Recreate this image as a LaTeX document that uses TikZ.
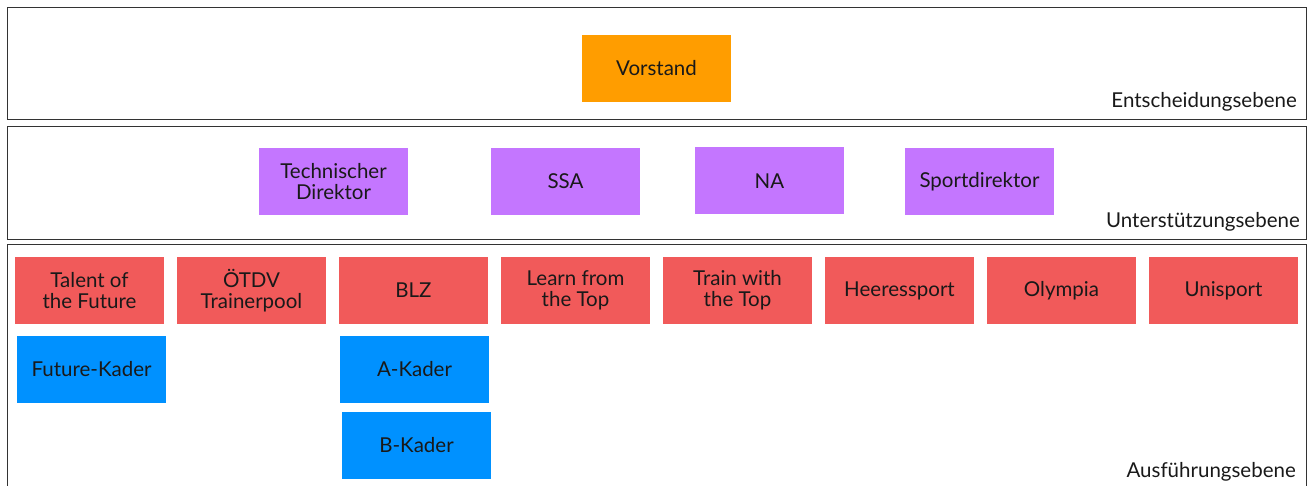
\documentclass[tikz,border=0pt]{standalone}
\usepackage{fontspec}
\setmainfont{Lato}
\definecolor{orangebox}{HTML}{FF9D00}
\definecolor{purplebox}{HTML}{C476FF}
\definecolor{redbox}{HTML}{F15A5A}
\definecolor{bluebox}{HTML}{0091FF}
\definecolor{frame}{HTML}{333333}
\tikzset{
  panel/.style={draw=frame, line width=1pt, fill=none},
  unitbox/.style={minimum width=149pt, minimum height=67pt, inner sep=0pt, align=center,
    font=\fontsize{20.5}{21}\selectfont, text=black!90},
  obox/.style={unitbox, fill=orangebox},
  pbox/.style={unitbox, fill=purplebox},
  rbox/.style={unitbox, fill=redbox},
  bbox/.style={unitbox, fill=bluebox},
  levellabel/.style={anchor=east, inner sep=0pt, font=\fontsize{20.5}{21}\selectfont, text=black!90}
}
\begin{document}
\begin{tikzpicture}[x=1pt,y=-1pt]
\useasboundingbox (0,0) rectangle (1311,486);
\begin{scope}
\clip (0,0) rectangle (1311,486);
\draw[panel] (7.5,7.5) rectangle (1306.5,119.5);
\draw[panel] (7.5,126.5) rectangle (1306.5,239.5);
\draw[panel] (7.5,244.5) rectangle (1306.5,500);
\end{scope}
\node[levellabel] (l1) at (1297,102) {Entscheidungsebene};
\node[levellabel] (l2) at (1300,222) {Unterstützungsebene};
\node[levellabel] (l3) at (1296,472) {Ausführungsebene};

\node[obox] (vorstand) at (656.5,68.5) {Vorstand};

\node[pbox] (td) at (333.5,182) {Technischer\\Direktor};
\node[pbox] (ssa) at (565.5,181.5) {SSA};
\node[pbox] (na) at (769.5,181) {NA};
\node[pbox] (sd) at (979.5,182) {Sportdirektor};

\node[rbox] (tof) at (89.5,290.5) {Talent of\\the Future};
\node[rbox] (otdv) at (251.5,290.5) {ÖTDV\\Trainerpool};
\node[rbox] (blz) at (413.5,290.5) {BLZ};
\node[rbox] (lft) at (575.5,290.5) {Learn from\\the Top};
\node[rbox] (twt) at (737.5,290.5) {Train with\\the Top};
\node[rbox] (hs) at (899.5,290.5) {Heeressport};
\node[rbox] (oly) at (1061.5,290.5) {Olympia};
\node[rbox] (uni) at (1223.5,290.5) {Unisport};

\node[bbox] (fk) at (91.5,369) {Future-Kader};
\node[bbox] (ak) at (414.5,369) {A-Kader};
\node[bbox] (bk) at (416.5,445) {B-Kader};
\end{tikzpicture}
\end{document}
